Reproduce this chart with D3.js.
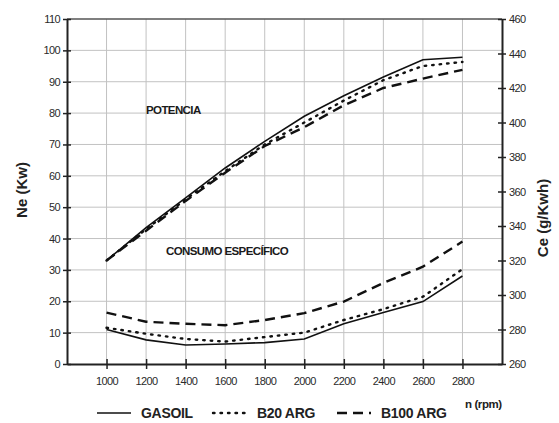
<!DOCTYPE html>
<html>
<head>
<meta charset="utf-8">
<script src="https://cdn.jsdelivr.net/npm/d3@7"></script>
<style>
  body { margin: 0; background: #fff; }
  svg { font-family: "Liberation Sans", Arial, sans-serif; }
</style>
</head>
<body>
<svg width="559" height="423"></svg>
<script>
// rpm values on the x axis
const rpm = [1000, 1200, 1400, 1600, 1800, 2000, 2200, 2400, 2600, 2800];

// power Ne (Kw), left axis
const neGasoil = [33, 43.5, 53, 62.5, 71, 79, 85.5, 91.5, 97, 97.8];
const neB20 = [33, 43, 52.5, 61.5, 70, 77, 84, 90.5, 95, 96.3];
const neB100 = [33, 42.5, 52, 61, 69.5, 75.5, 82.5, 88, 91, 93.8];

// specific consumption Ce (g/Kwh), right axis
const ceGasoil = [280, 274, 271, 271.6, 272.4, 274.5, 283.3, 289.8, 296.2, 311];
const ceB20 = [281, 277.5, 274.5, 273, 275.6, 278.2, 285.5, 291.8, 299, 315];
const ceB100 = [289.8, 284.5, 283.3, 282.5, 285.5, 289.5, 296.2, 307, 316.4, 331];

const leftTicks = d3.range(0, 111, 10);
const rightTicks = d3.range(260, 461, 20);

const svg = d3.select('svg');
const plotL = 67, plotR = 502, plotT = 19, plotB = 364;

const x = d3.scaleLinear().domain([800, 3000]).range([plotL, plotR]);
const yL = d3.scaleLinear().domain([0, 110]).range([plotB, plotT]);
const yR = d3.scaleLinear().domain([260, 460]).range([plotB, plotT]);

// grid
svg.append('g').selectAll('line').data(leftTicks.slice(1, -1)).join('line')
    .attr('x1', plotL).attr('x2', plotR)
    .attr('y1', d => yL(d)).attr('y2', d => yL(d))
    .attr('stroke', '#c2c2c2').attr('stroke-width', 1);
svg.append('g').selectAll('line').data(rpm).join('line')
    .attr('x1', d => x(d)).attr('x2', d => x(d))
    .attr('y1', plotT).attr('y2', plotB)
    .attr('stroke', '#c2c2c2').attr('stroke-width', 1);
svg.append('line')
    .attr('x1', plotL).attr('x2', plotR).attr('y1', plotT).attr('y2', plotT)
    .attr('stroke', '#555').attr('stroke-width', 1.5);

// axes
const axisStyle = g => {
    g.select('.domain').attr('stroke', '#222').attr('stroke-width', 2);
    g.selectAll('.tick line').attr('stroke', '#222').attr('stroke-width', 1.5);
    g.selectAll('.tick text').attr('fill', '#2a2a2a').attr('font-size', 11)
        .attr('letter-spacing', -0.6);
};
svg.append('g').attr('transform', `translate(${plotL},0)`)
    .call(d3.axisLeft(yL).tickValues(leftTicks).tickSizeInner(4).tickSizeOuter(0).tickPadding(3))
    .call(g => g.selectAll('.tick line').attr('x2', 4).attr('x1', -4))
    .call(axisStyle);
svg.append('g').attr('transform', `translate(${plotR},0)`)
    .call(d3.axisRight(yR).tickValues(rightTicks).tickSizeInner(4).tickSizeOuter(0).tickPadding(3))
    .call(g => g.selectAll('.tick line').attr('x1', -4).attr('x2', 4))
    .call(axisStyle);
svg.append('g').attr('transform', `translate(0,${plotB})`)
    .call(d3.axisBottom(x).tickValues(rpm).tickFormat(d3.format('d')).tickSizeInner(5).tickSizeOuter(0).tickPadding(8))
    .call(g => g.selectAll('.tick line').attr('y1', -5).attr('y2', 5))
    .call(axisStyle);

// series
const styles = {
    solid: { dash: null, width: 1.6 },
    dot: { dash: '1.5,6', width: 2.4 },
    dash: { dash: '10,6', width: 2.4 }
};
function drawLine(vals, yScale, st) {
    const line = d3.line().x((d, i) => x(rpm[i])).y(d => yScale(d));
    svg.append('path').datum(vals)
        .attr('d', line)
        .attr('fill', 'none')
        .attr('stroke', '#111')
        .attr('stroke-width', st.width)
        .attr('stroke-linecap', st === styles.dot ? 'round' : 'butt')
        .attr('stroke-dasharray', st.dash);
}
drawLine(neGasoil, yL, styles.solid);
drawLine(neB20, yL, styles.dot);
drawLine(neB100, yL, styles.dash);
drawLine(ceGasoil, yR, styles.solid);
drawLine(ceB20, yR, styles.dot);
drawLine(ceB100, yR, styles.dash);

// labels inside plot
svg.append('text').attr('x', 146).attr('y', 114)
    .attr('font-size', 11.5).attr('font-weight', 'bold').attr('letter-spacing', -0.6)
    .attr('fill', '#1a1a1a').text('POTENCIA');
svg.append('text').attr('x', 166).attr('y', 255)
    .attr('font-size', 11.5).attr('font-weight', 'bold').attr('letter-spacing', -0.6)
    .attr('fill', '#1a1a1a').text('CONSUMO ESPECÍFICO');

// axis titles
svg.append('text').attr('transform', 'translate(27,190) rotate(-90)')
    .attr('text-anchor', 'middle').attr('font-size', 15).attr('font-weight', 'bold')
    .attr('fill', '#222').text('Ne (Kw)');
svg.append('text').attr('transform', 'translate(548,218) rotate(-90)')
    .attr('text-anchor', 'middle').attr('font-size', 15).attr('font-weight', 'bold')
    .attr('fill', '#222').text('Ce (g/Kwh)');
svg.append('text').attr('x', 465).attr('y', 408)
    .attr('font-size', 11.5).attr('font-weight', 'bold').attr('fill', '#222')
    .attr('letter-spacing', -0.4).text('n (rpm)');

// legend
const legend = [
    { name: 'GASOIL', st: styles.solid, x0: 97 },
    { name: 'B20 ARG', st: styles.dot, x0: 213 },
    { name: 'B100 ARG', st: styles.dash, x0: 337 }
];
const lg = svg.append('g');
legend.forEach(l => {
    lg.append('line').attr('x1', l.x0).attr('x2', l.x0 + 34)
        .attr('y1', 413).attr('y2', 413)
        .attr('stroke', '#111').attr('stroke-width', l.st.width)
        .attr('stroke-linecap', l.st === styles.dot ? 'round' : 'butt')
        .attr('stroke-dasharray', l.st.dash);
    lg.append('text').attr('x', l.x0 + 44).attr('y', 418)
        .attr('font-size', 14).attr('font-weight', 'bold').attr('fill', '#222')
        .attr('letter-spacing', -0.3).text(l.name);
});
</script>
</body>
</html>
